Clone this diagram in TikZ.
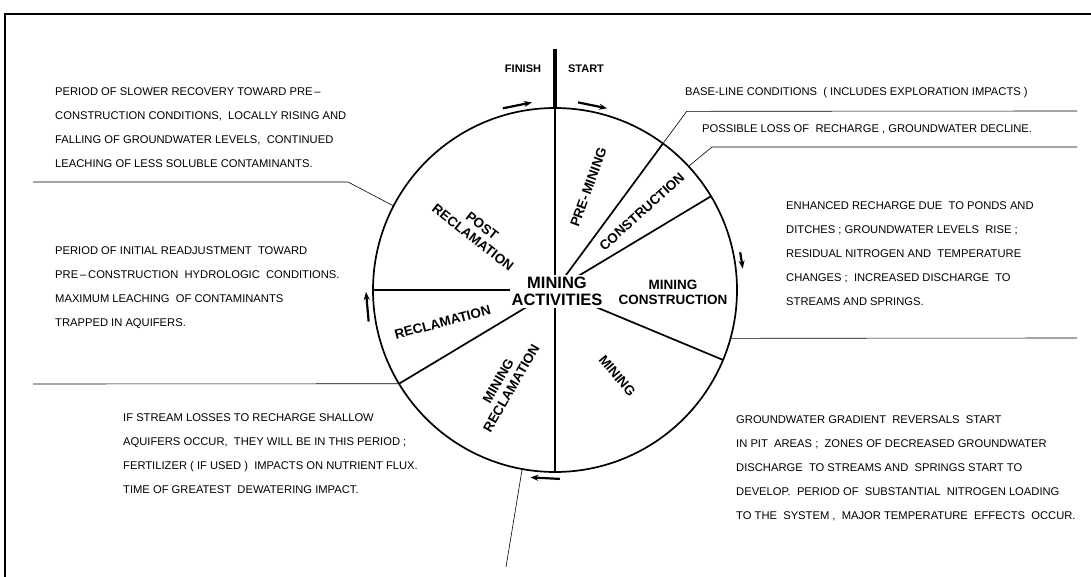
\documentclass[tikz,border=0pt]{standalone}
\usepackage{fontspec}
\setmainfont{Liberation Sans}
\usetikzlibrary{arrows.meta}

\begin{document}
\begin{tikzpicture}[
  x=1pt, y=1pt,
  frame/.style={line width=1.3pt},
  rim/.style={line width=1.7pt},
  spoke/.style={line width=1.7pt},
  bar/.style={line width=3.6pt},
  leader/.style={line width=0.6pt},
  flow/.style={line width=2.2pt, -{Stealth[length=8pt,width=6pt]}},
  note/.style={font=\fontsize{11.2}{24}\selectfont, align=left, anchor=north west, inner sep=0pt},
  phase/.style={font=\bfseries\fontsize{13.5}{15}\selectfont, align=center, inner sep=1pt},
  hub/.style={font=\bfseries\fontsize{16.5}{17.5}\selectfont, align=center, fill=white, inner sep=2pt},
  tag/.style={font=\bfseries\fontsize{11}{12}\selectfont, inner sep=1pt},
]
\useasboundingbox (0,0) rectangle (1091,-577);

% === FRAME ===
\coordinate (fr1) at (1091,-14);
\coordinate (fr2) at (5,-14);
\coordinate (fr3) at (5,-577);
\draw[frame] (fr1) -- (fr2) -- (fr3);

% === WHEEL ===
\begin{scope}[shift={(555,-290)}]
  \coordinate (hubc) at (0,0);
  \foreach \a in {90,53.6,31,-22.6,-90,211,180}
    \draw[spoke] (hubc) -- (\a:182);
  \draw[rim] (hubc) circle (182);
  \coordinate (top) at (90:182);
  \coordinate (mast) at (0,241);
  \draw[bar] (top) -- (mast);

  \node[hub] (hub) at (2,-1.5) {MINING\\ACTIVITIES};

  \node[phase, rotate=70]  (premin)  at (72:108)  {PRE-\,MINING};
  \node[phase, rotate=42]  (constr)  at (42:117)  {CONSTRUCTION};
  \node[phase]             (mincon)  at (-1:118)  {MINING\\CONSTRUCTION};
  \node[phase, rotate=-50] (mining)  at (-54:106) {MINING};
  \node[phase, rotate=60]  (minrec)  at (242:107) {MINING\\RECLAMATION};
  \node[phase, rotate=15]  (reclam)  at (196:117) {RECLAMATION};
  \node[phase, rotate=-38] (postrec) at (143:97)  {POST\\RECLAMATION};

  \node[tag] (finish) at (-32,221) {FINISH};
  \node[tag] (start)  at (31,221)  {START};

  % direction of travel
  \foreach \from/\to in {106/97, 83/74, 11.5/6.5, -88.5/-97.5, 189.6/180.6}
    \draw[flow] (\from:189) -- (\to:189);

  % leader points on the rim
  \coordinate (pA) at (152.5:182);
  \coordinate (pB) at (211:182);
  \coordinate (pC) at (259.6:182);
  \coordinate (pD) at (-15.4:182);
  \coordinate (pE) at (53.6:182);
  \coordinate (kE) at (53.6:222);
  \coordinate (pF) at (42.8:182);
\end{scope}

% === LEADERS ===
\coordinate (eA) at (33,-182);
\coordinate (kA) at (348,-182);
\coordinate (eB) at (33,-384);
\coordinate (eC) at (506,-567);
\coordinate (eD) at (1077,-338);
\coordinate (eE) at (1077,-111);
\coordinate (kF) at (712,-147);
\coordinate (eF) at (1077,-147);
\draw[leader] (eA) -- (kA) -- (pA);
\draw[leader] (eB) -- (pB);
\draw[leader] (pC) -- (eC);
\draw[leader] (pD) -- (eD);
\draw[leader] (pE) -- (kE) -- (eE);
\draw[leader] (pF) -- (kF) -- (eF);

% === NOTES ===
\node[note] (nA) at (55,-87.5) {PERIOD OF SLOWER RECOVERY TOWARD PRE\,--\\CONSTRUCTION CONDITIONS,~ LOCALLY RISING AND\\FALLING OF GROUNDWATER LEVELS,~ CONTINUED\\LEACHING OF LESS SOLUBLE CONTAMINANTS.};
\node[note] (nB) at (55,-246.5) {PERIOD OF INITIAL READJUSTMENT~ TOWARD\\PRE\,--\,CONSTRUCTION~ HYDROLOGIC~ CONDITIONS.\\MAXIMUM LEACHING~ OF CONTAMINANTS\\TRAPPED IN AQUIFERS.};
\node[note] (nC) at (123,-413.5) {IF STREAM LOSSES TO RECHARGE SHALLOW\\AQUIFERS OCCUR,~ THEY WILL BE IN THIS PERIOD ;\\FERTILIZER ( IF USED )~ IMPACTS ON NUTRIENT FLUX.\\TIME OF GREATEST~ DEWATERING IMPACT.};
\node[note] (nD) at (786,-201.5) {ENHANCED RECHARGE DUE~ TO PONDS AND\\DITCHES ; GROUNDWATER LEVELS~ RISE ;\\RESIDUAL NITROGEN AND~ TEMPERATURE\\CHANGES ;~ INCREASED DISCHARGE~ TO\\STREAMS AND SPRINGS.};
\node[note] (nE) at (736,-415.5) {GROUNDWATER GRADIENT~ REVERSALS~ START\\IN PIT~ AREAS ;~ ZONES OF DECREASED GROUNDWATER\\DISCHARGE~ TO STREAMS AND~ SPRINGS START TO\\DEVELOP.~ PERIOD OF~ SUBSTANTIAL~ NITROGEN LOADING\\TO THE~ SYSTEM ,~ MAJOR TEMPERATURE~ EFFECTS~ OCCUR.};
\node[note] (nBase) at (685,-87.5) {BASE-LINE CONDITIONS~ ( INCLUDES EXPLORATION IMPACTS )};
\node[note] (nLoss) at (702,-124.5) {POSSIBLE LOSS OF~ RECHARGE , GROUNDWATER DECLINE.};
\end{tikzpicture}
\end{document}
